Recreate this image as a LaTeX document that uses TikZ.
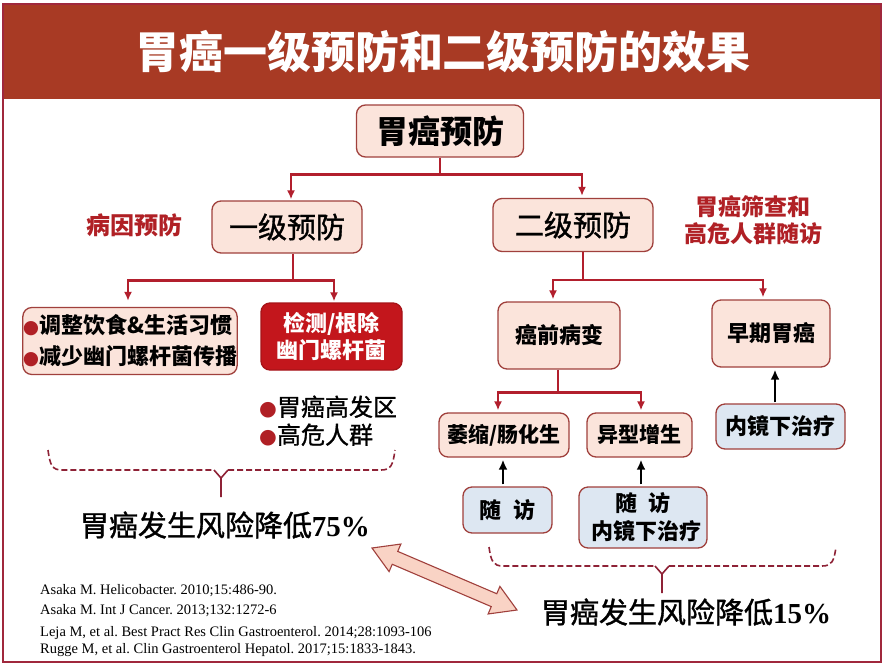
\documentclass[tikz,border=0pt]{standalone}
\usepackage{fontspec}
\usepackage{graphicx}
\setmainfont{Liberation Serif}
\newfontfamily\cjk{Noto Sans CJK SC}
\newfontfamily\cjkm{Noto Sans CJK SC}[FakeBold=1.2]
\newfontfamily\dejavu{DejaVu Sans}
\usetikzlibrary{calc,arrows.meta}
\definecolor{banner}{HTML}{A83A24}
\definecolor{framec}{HTML}{A0283C}
\definecolor{connc}{HTML}{B21F2D}
\definecolor{boxfill}{HTML}{FBE4DB}
\definecolor{boxline}{HTML}{A0403C}
\definecolor{bluefill}{HTML}{DDE7F2}
\definecolor{redbox}{HTML}{C3161C}
\definecolor{redtxt}{HTML}{B02025}
\definecolor{bracec}{HTML}{8E2236}
\definecolor{arrfill}{HTML}{F9D3C5}
\newcommand\fz[2]{\fontsize{#1}{#2}\selectfont}
\newcommand\bul{{\dejavu\color{redtxt}\scalebox{0.85}{●}}}
\frenchspacing
\tikzset{
 pbox/.style={draw=boxline, fill=boxfill, line width=1.3pt, rounded corners=9pt, inner sep=0pt, align=center, text=black},
 bbox/.style={draw=boxline, fill=bluefill, line width=1.3pt, rounded corners=9pt, inner sep=0pt, align=center, text=black},
 rbox/.style={draw=redbox!85!black, fill=redbox, line width=1.3pt, rounded corners=9pt, inner sep=0pt, align=center, text=white},
 conn/.style={draw=connc, line width=2.4pt},
 carrow/.style={conn, -{Latex[length=9pt,width=8pt]}},
 karrow/.style={draw=black, line width=2.8pt, -{Latex[length=10pt,width=9pt]}},
 bracedash/.style={draw=bracec, line width=1.6pt, dash pattern=on 6pt off 3pt},
 bracesolid/.style={draw=bracec, line width=1.6pt},
 reftext/.style={anchor=west, inner sep=0pt, font=\fz{14.5}{16}},
}
\begin{document}
\begin{tikzpicture}[x=1pt,y=-1pt]
\useasboundingbox (0,0) rectangle (884,665);
\fill[white] (0,0) rectangle (884,665);
\fill[banner] (2,3) rectangle (881,99);
\draw[framec, line width=2pt] (2.5,3.5) rectangle (880.5,661.5);
\node[text=white, font=\cjk\bfseries\fz{44}{50}] (title) at (443,52) {胃癌一级预防和二级预防的效果};

% level 0 and 1
\node[pbox, minimum width=167pt, minimum height=52pt, font=\cjk\bfseries\fz{32}{38}] (top) at (440,131) {胃癌预防};
\node[pbox, minimum width=150pt, minimum height=52pt, font=\cjkm\fz{29}{34}] (l1) at (287,227) {一级预防};
\node[pbox, minimum width=160pt, minimum height=53pt, font=\cjkm\fz{29}{34}] (l2) at (573,225) {二级预防};
\node[text=redtxt, font=\cjk\bfseries\fz{24}{28}] (lab1) at (134,225) {病因预防};
\node[text=redtxt, align=center, font=\cjk\bfseries\fz{23}{27}] (lab2) at (753,220) {胃癌筛查和\\高危人群随访};

% primary prevention
\node[pbox, align=left, minimum width=214pt, minimum height=67pt, font=\cjk\bfseries\fz{22}{31}] (a1) at (130,341) {\bul 调整饮食\&生活习惯\\\bul 减少幽门螺杆菌传播};
\node[rbox, minimum width=141pt, minimum height=67pt, font=\cjk\bfseries\fz{22}{27}] (a2) at (331.5,336.5) {检测/根除\\幽门螺杆菌};
\node[anchor=west, inner sep=0pt, font=\cjkm\fz{24}{28}] (b1) at (259,407) {\bul 胃癌高发区};
\node[anchor=west, inner sep=0pt, font=\cjkm\fz{24}{28}] (b2) at (259,435) {\bul 高危人群};

% secondary prevention
\node[pbox, minimum width=122pt, minimum height=67pt, font=\cjk\bfseries\fz{22}{26}] (c1) at (559,335.5) {癌前病变};
\node[pbox, minimum width=118pt, minimum height=67pt, font=\cjk\bfseries\fz{22}{26}] (c2) at (771,333.5) {早期胃癌};
\node[pbox, minimum width=130pt, minimum height=44pt, font=\cjk\bfseries\fz{21}{25}] (d1) at (504,435) {萎缩/肠化生};
\node[pbox, minimum width=105pt, minimum height=44pt, font=\cjk\bfseries\fz{21}{25}] (d2) at (639.5,435) {异型增生};
\node[bbox, minimum width=89pt, minimum height=46pt, font=\cjk\bfseries\fz{22}{26}] (e1) at (507.5,510) {随\hspace{12pt}访};
\node[bbox, minimum width=128pt, minimum height=61pt, font=\cjk\bfseries\fz{22}{28}] (e2) at (643,517.5) {随\hspace{12pt}访\\\hspace{6pt}内镜下治疗};
\node[bbox, minimum width=129pt, minimum height=45pt, font=\cjk\bfseries\fz{22}{26}] (e3) at (780.5,426.5) {内镜下治疗};

% connectors
\draw[conn] (top.south) -- ++(0,17) coordinate (j1);
\draw[carrow] (j1) -| ($(l1.north)+(4,-1)$);
\draw[carrow] (j1) -| ($(l2.north)+(9,-2)$);
\draw[conn] ($(l1.south)+(6,0)$) -- ++(0,27) coordinate (j2);
\draw[carrow] (j2) -| ($(a1.north)+(-2,-6)$);
\draw[carrow] (j2) -| ($(a2.north)+(2.5,-1)$);
\draw[conn] ($(l2.south)+(10,0)$) -- ++(0,28) coordinate (j3);
\draw[carrow] (j3) -| ($(c1.north)+(-6,-2)$);
\draw[carrow] (j3) -| ($(c2.north)+(-8,-2)$);
\draw[conn] ($(c1.south)+(-1,0)$) -- ++(0,23) coordinate (j4);
\draw[carrow] (j4) -| ($(d1.north)+(-6,-2)$);
\draw[carrow] (j4) -| ($(d2.north)+(1.5,-2)$);
\draw[karrow] ($(e1.north)+(-4.5,-2)$) -- ($(d1.south)+(-1,2)$);
\draw[karrow] ($(e2.north)+(-2,-2)$) -- ($(d2.south)+(1.5,2)$);
\draw[karrow] ($(e3.north)+(-5.5,-1)$) -- ($(c2.south)+(4,2)$);

% braces
\draw[bracedash] (48,450) .. controls (50,465) and (52,470) .. (62,470) -- (214,470);
\draw[bracedash] (228,470) -- (381,470) .. controls (391,470) and (393,465) .. (395,450);
\draw[bracesolid] (214,470) -- (221,478) -- (228,470) (221,478) -- (221,497);
\draw[bracedash] (489,547) .. controls (491,561) and (493,566) .. (503,566) -- (655,566);
\draw[bracedash] (669,566) -- (822,566) .. controls (832,566) and (834,561) .. (836,547);
\draw[bracesolid] (655,566) -- (662,574) -- (669,566) (662,574) -- (662,593);

% results
\node (r1) at (225,525) {{\cjkm\fz{29}{34}胃癌发生风险降低}{\bfseries\fz{29}{34}75\%}};
\node (r2) at (686,612) {{\cjkm\fz{29}{34}胃癌发生风险降低}{\bfseries\fz{29}{34}15\%}};

% double arrow
\coordinate (dA) at (372,548);
\coordinate (dB) at (517,610);
\coordinate (hA) at ($(dA)!25pt!(dB)$);
\coordinate (hB) at ($(dB)!25pt!(dA)$);
\filldraw[fill=arrfill, draw=boxline, line width=1.1pt, line join=miter]
 (dA) -- ($(hA)!15pt!90:(dB)$) -- ($(hA)!7pt!90:(dB)$) -- ($(hB)!7pt!-90:(dA)$) -- ($(hB)!15pt!-90:(dA)$)
 -- (dB) -- ($(hB)!15pt!90:(dA)$) -- ($(hB)!7pt!90:(dA)$) -- ($(hA)!7pt!-90:(dB)$) -- ($(hA)!15pt!-90:(dB)$) -- cycle;

% references
\node[reftext] (ref1) at (40,591) {Asaka M. Helicobacter. 2010;15:486-90.};
\node[reftext] (ref2) at (40,611) {Asaka M. Int J Cancer. 2013;132:1272-6};
\node[reftext] (ref3) at (40,633) {Leja M, et al. Best Pract Res Clin Gastroenterol. 2014;28:1093-106};
\node[reftext] (ref4) at (40,650) {Rugge M, et al. Clin Gastroenterol Hepatol. 2017;15:1833-1843.};
\end{tikzpicture}
\end{document}
